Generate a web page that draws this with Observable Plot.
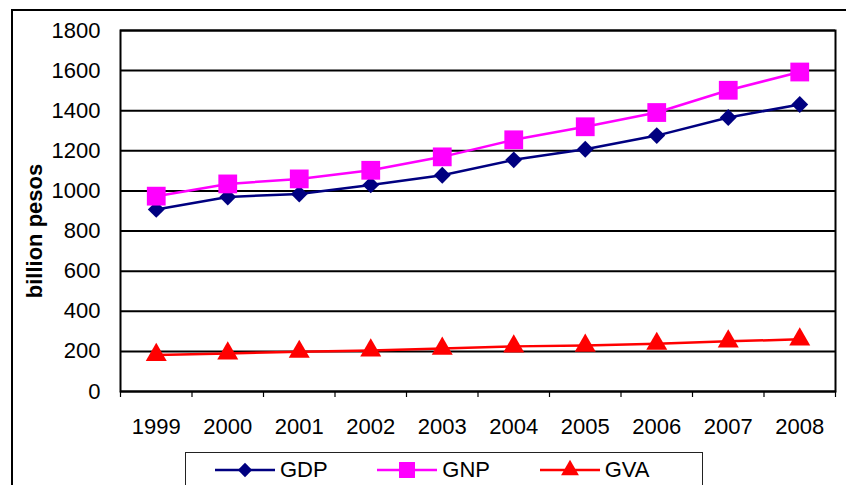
<!DOCTYPE html>
<html>
<head>
<meta charset="utf-8">
<script src="https://cdn.jsdelivr.net/npm/d3@7"></script>
<script src="https://cdn.jsdelivr.net/npm/@observablehq/plot@0.6"></script>
<style>
  html, body { margin: 0; padding: 0; background: #fff; overflow: hidden; }
  body { position: relative; width: 846px; height: 485px; font-family: "Liberation Sans", Arial, sans-serif; }
  #outer { position: absolute; left: 11px; top: 9px; width: 900px; height: 600px; border: 2px solid #000; pointer-events: none; box-sizing: border-box; }
  #chart svg { display: block; }
  #legend { position: absolute; left: 185px; top: 452px; width: 518px; height: 40px; border: 1px solid #222; box-sizing: border-box; display: flex; align-items: flex-start; padding-left: 29px; }
  .item { width: 174px; display: flex; align-items: center; height: 33px; }
  .item span { font-size: 22px; color: #000; margin-left: 5px; line-height: 1; }
</style>
</head>
<body>
<div id="chart"></div>
<div id="legend"></div>
<div id="outer"></div>
<script>
const years = [1999, 2000, 2001, 2002, 2003, 2004, 2005, 2006, 2007, 2008];
const gdp = [908, 970, 985, 1030, 1078, 1155, 1208, 1276, 1366, 1431];
const gnp = [974, 1035, 1060, 1103, 1170, 1255, 1320, 1391, 1502, 1593];
const gva = [182, 190, 198, 205, 214, 225, 229, 238, 250, 260];
const seriesNames = ["GDP", "GNP", "GVA"];
const seriesColors = ["#000080", "#FF00FF", "#FF0000"];
const seriesSymbols = ["diamond2", "square", "triangle"];
const yTicks = [0, 200, 400, 600, 800, 1000, 1200, 1400, 1600, 1800];
const yLabel = "billion pesos";

const values = [gdp, gnp, gva];
const seriesData = values.map((vals, i) => years.map((y, j) => ({year: y, value: vals[j], series: seriesNames[i]})));
const bounds = d3.range(years.length + 1).map(i => years[0] - 0.5 + i);
const dotR = [7.6, 10.6, 7.8];

const marks = [
  Plot.gridY(yTicks, {stroke: "#000", strokeOpacity: 1, strokeWidth: 2}),
  Plot.frame({stroke: "#000", strokeWidth: 2}),
  Plot.axisY(yTicks, {tickSize: 0, tickPadding: 20, fontSize: 22, label: null, tickFormat: d => String(d)}),
  Plot.axisX(years, {tickSize: 0, tickPadding: 27, fontSize: 22, label: null, tickFormat: d => String(d)}),
  Plot.axisX(bounds, {tickSize: 6, strokeWidth: 1.2, label: null, tickFormat: () => ""}),
  Plot.text([yLabel], {frameAnchor: "left", textAnchor: "middle", rotate: -90, dx: -86, dy: 20, fontSize: 22, fontWeight: "bold", fill: "#000"})
];
seriesData.forEach((d, i) => {
  marks.push(Plot.line(d, {x: "year", y: "value", stroke: seriesColors[i], strokeWidth: 2.5}));
});
seriesData.forEach((d, i) => {
  marks.push(Plot.dot(d, {x: "year", y: "value", symbol: seriesSymbols[i], r: dotR[i], fill: seriesColors[i], stroke: "none"}));
});

const chart = Plot.plot({
  width: 846,
  height: 445,
  marginLeft: 120,
  marginRight: 11,
  marginTop: 30,
  marginBottom: 54,
  style: {fontFamily: "'Liberation Sans', Arial, sans-serif", fontSize: "22px", color: "#000", background: "transparent", overflow: "visible"},
  x: {type: "linear", domain: [years[0] - 0.5, years[years.length - 1] + 0.5], axis: null},
  y: {type: "linear", domain: [0, 1800], axis: null},
  marks
});
document.getElementById("chart").appendChild(chart);

// legend
const legend = d3.select("#legend");
seriesNames.forEach((name, i) => {
  const item = legend.append("div").attr("class", "item");
  const svg = item.append("svg").attr("width", 60).attr("height", 24);
  svg.append("line").attr("x1", 0).attr("x2", 60).attr("y1", 12).attr("y2", 12)
    .attr("stroke", seriesColors[i]).attr("stroke-width", 2.5);
  const sym = {diamond2: d3.symbolDiamond2, square: d3.symbolSquare, triangle: d3.symbolTriangle}[seriesSymbols[i]];
  const r = dotR[i] * 0.85;
  svg.append("path").attr("d", d3.symbol(sym, r * r * Math.PI)()).attr("transform", "translate(30,12)")
    .attr("fill", seriesColors[i]);
  item.append("span").text(name);
});
</script>
</body>
</html>
